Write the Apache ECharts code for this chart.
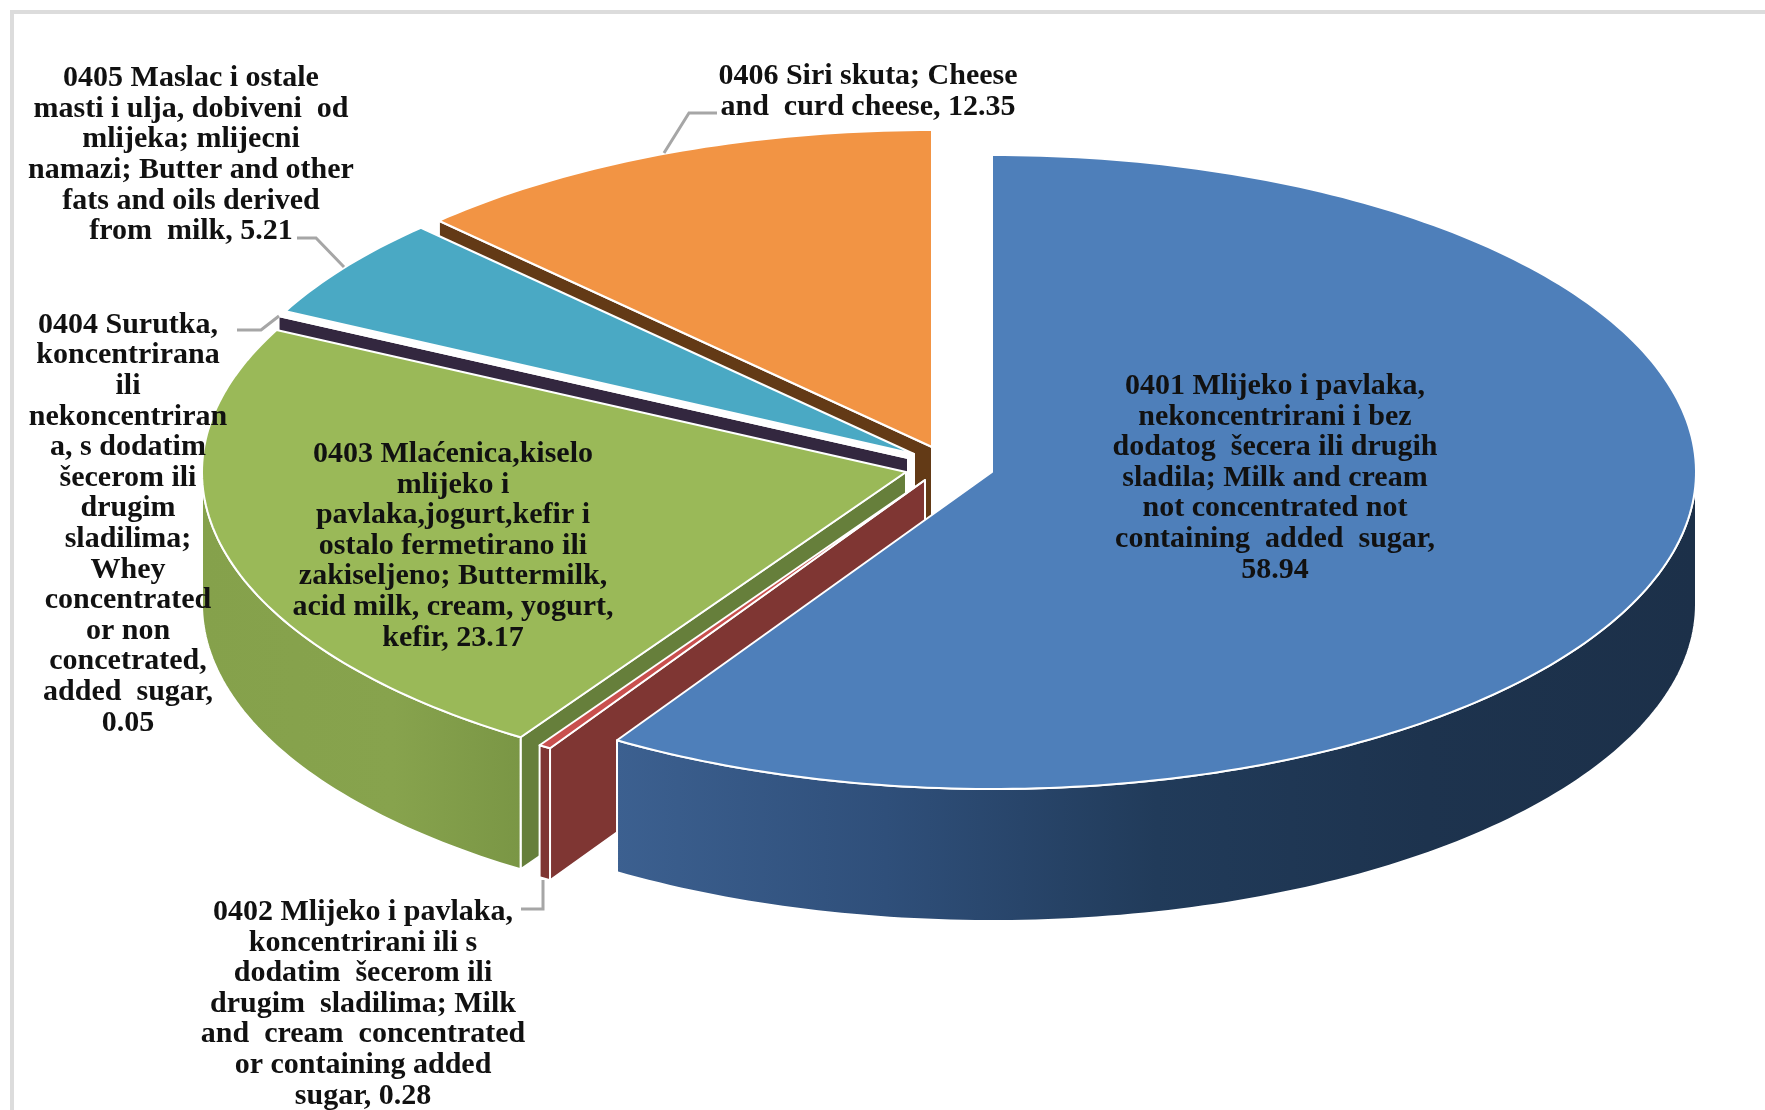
<!DOCTYPE html>
<html>
<head>
<meta charset="utf-8">
<style>html,body{margin:0;padding:0;background:#fff}#c{width:1765px;height:1110px}</style>
<script src="https://cdn.jsdelivr.net/npm/echarts@6/dist/echarts.min.js"></script>
</head>
<body>
<div id="c"></div>
<script>
// ---- data ----
const codes = ['0401', '0402', '0403', '0404', '0405', '0406'];
const values = [58.94, 0.28, 23.17, 0.05, 5.21, 12.35];
const labelTemplates = [
  '0401 Mlijeko i pavlaka,\nnekoncentrirani i bez\ndodatog  šecera ili drugih\nsladila; Milk and cream\nnot concentrated not\ncontaining  added  sugar,\n{v}',
  '0402 Mlijeko i pavlaka,\nkoncentrirani ili s\ndodatim  šecerom ili\ndrugim  sladilima; Milk\nand  cream  concentrated\nor containing added\nsugar, {v}',
  '0403 Mlaćenica,kiselo\nmlijeko i\npavlaka,jogurt,kefir i\nostalo fermetirano ili\nzakiseljeno; Buttermilk,\nacid milk, cream, yogurt,\nkefir, {v}',
  '0404 Surutka,\nkoncentrirana\nili\nnekoncentriran\na, s dodatim\nšecerom ili\ndrugim\nsladilima;\nWhey\nconcentrated\nor non\nconcetrated,\nadded  sugar,\n{v}',
  '0405 Maslac i ostale\nmasti i ulja, dobiveni  od\nmlijeka; mlijecni\nnamazi; Butter and other\nfats and oils derived\nfrom  milk, {v}',
  '0406 Siri skuta; Cheese\nand  curd cheese, {v}'
];

// ---- styling / layout (not data) ----
const RX = 704, RY = 317, DEPTH = 132;
const sliceCenters = [[992,472],[925,480],[906,472],[908,458],[914,454],[932,447]];
const topColors = ['#4e7fba','#c9504e','#9ab958','#8064a2','#4aa9c4','#f29444'];
const startWallColors = [null,'#7f3633','#667f3b','#33273f','#ffffff','#633a16'];
const arcWallFills = [
  {x:0,y:0,x2:1,y2:0,type:'linear',colorStops:[
    {offset:0,color:'#3c6090'},{offset:0.25,color:'#2f4f7a'},{offset:0.5,color:'#213b5a'},
    {offset:0.75,color:'#1d334e'},{offset:1,color:'#1c3049'}]},
  '#7f3633',
  {x:0,y:0,x2:1,y2:0,type:'linear',colorStops:[
    {offset:0,color:'#85a14b'},{offset:0.6,color:'#87a34d'},{offset:1,color:'#7a9645'}]},
  null,null,null
];
const labelCenters = [[1275,478],[363,1004],[453,546],[128,524],[191,155],[868,92]];
const leaderLines = [
  null,
  [[521,909],[543,909],[543,880]],
  null,
  [[237,330],[261,330],[279,316]],
  [[297,238],[316,238],[344,267]],
  [[717,113],[689,113],[664,153]]
];
const FONT = 'bold 30px "Liberation Serif", "Times New Roman", serif';

// ---- angles derived from the values ----
const total = values.reduce((a, b) => a + b, 0);
const spans = [];
values.reduce((acc, v) => {
  const end = acc + v / total * 360;
  spans.push([acc, end]);
  return end;
}, 0);

function pt(c, deg, drop) {
  const t = deg * Math.PI / 180;
  return [c[0] + RX * Math.sin(t), c[1] - RY * Math.cos(t) + (drop || 0)];
}
function arc(c, a, b, drop) {
  const n = Math.max(2, Math.ceil(Math.abs(b - a)));
  const pts = [];
  for (let i = 0; i <= n; i++) pts.push(pt(c, a + (b - a) * i / n, drop));
  return pts;
}
function poly(points, fill) {
  return {type:'polygon', shape:{points}, style:{fill, stroke:'#ffffff', lineWidth:2, lineJoin:'round'}};
}

function renderSlice(params, api) {
  const i = api.value(0);
  const c = sliceCenters[i];
  const [a, b] = spans[i];
  const children = [];
  if (startWallColors[i]) {
    const o = pt(c, a), oB = pt(c, a, DEPTH);
    children.push(poly([c, o, oB, [c[0], c[1] + DEPTH]], startWallColors[i]));
  }
  const wa = Math.max(a, 90), wb = Math.min(b, 270);
  if (arcWallFills[i] && wb > wa) {
    children.push(poly(arc(c, wa, wb, 0).concat(arc(c, wb, wa, DEPTH)), arcWallFills[i]));
  }
  children.push(poly([c].concat(arc(c, a, b, 0)), topColors[i]));
  return {type:'group', children};
}

function renderLabel(params, api) {
  const i = api.value(0);
  const children = [];
  if (leaderLines[i]) {
    children.push({type:'polyline', shape:{points:leaderLines[i]},
      style:{fill:null, stroke:'#a6a6a6', lineWidth:3}});
  }
  children.push({type:'text', x:labelCenters[i][0], y:labelCenters[i][1], style:{
    text: labelTemplates[i].replace('{v}', values[i]),
    font: FONT, lineHeight:30.6, fill:'#111111',
    textAlign:'center', textVerticalAlign:'middle'
  }});
  return {type:'group', children};
}

const chart = echarts.init(document.getElementById('c'), null, {renderer:'canvas', width:1765, height:1110});
// slices are painted far to near: reverse category order
const drawOrder = codes.map((_, i) => i).reverse();
chart.setOption({
  animation:false,
  backgroundColor:'#ffffff',
  graphic:[{type:'rect', z:0, shape:{x:12,y:12,width:2000,height:2000},
    style:{fill:'#ffffff', stroke:'#dcdcdc', lineWidth:4}}],
  series:[
    {type:'custom', name:'slices', coordinateSystem:'none', z:2, silent:true,
     data:drawOrder.map(i => [i, values[i], codes[i]]), renderItem:renderSlice},
    {type:'custom', name:'labels', coordinateSystem:'none', z:3, silent:true,
     data:codes.map((code, i) => [i, values[i], code]), renderItem:renderLabel}
  ]
});
</script>
</body>
</html>
